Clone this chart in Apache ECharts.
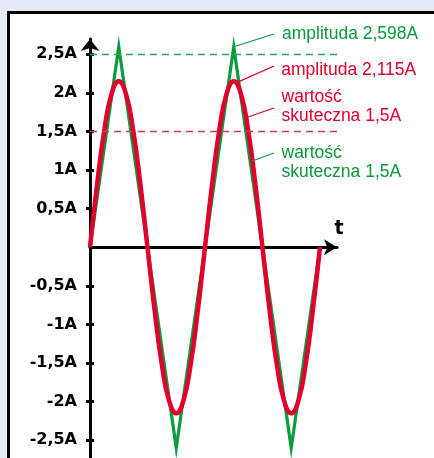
<!DOCTYPE html>
<html>
<head>
<meta charset="utf-8">
<script src="https://cdn.jsdelivr.net/npm/echarts@6/dist/echarts.min.js"></script>
<style>
  html, body { margin: 0; padding: 0; background: #e4ebf6; width: 434px; height: 458px; overflow: hidden; }
  #panel { position: absolute; left: 7px; top: 11px; width: 500px; height: 500px; background: #ffffff; border: 3px solid #000; }
  #chart { position: absolute; left: 0; top: 0; width: 434px; height: 458px; }
</style>
</head>
<body>
<div id="panel"></div>
<div id="chart"></div>
<script>
// time in periods, current in A
var greenT = [0, 0.25, 0.75, 1.25, 1.75, 2];
var greenI = [0, 2.598, -2.598, 2.598, -2.598, 0];

var redT = [0, 0.0625, 0.125, 0.1875, 0.25, 0.3125, 0.375, 0.4375, 0.5, 0.5625, 0.625, 0.6875, 0.75, 0.8125, 0.875, 0.9375,
            1, 1.0625, 1.125, 1.1875, 1.25, 1.3125, 1.375, 1.4375, 1.5, 1.5625, 1.625, 1.6875, 1.75, 1.8125, 1.875, 1.9375, 2];
var redI = [0, 0.823, 1.52, 1.986, 2.15, 1.986, 1.52, 0.823, 0, -0.823, -1.52, -1.986, -2.15, -1.986, -1.52, -0.823,
            0, 0.823, 1.52, 1.986, 2.15, 1.986, 1.52, 0.823, 0, -0.823, -1.52, -1.986, -2.15, -1.986, -1.52, -0.823, 0];

var yTickValues = [-2.5, -2, -1.5, -1, -0.5, 0.5, 1, 1.5, 2, 2.5];
var yTickLabels = ['-2,5A', '-2A', '-1,5A', '-1A', '-0,5A', '0,5A', '1A', '1,5A', '2A', '2,5A'];

var greenAmpLabel = 'amplituda 2,598A';
var redAmpLabel = 'amplituda 2,115A';
var redRmsLabel = 'wartość\nskuteczna 1,5A';
var greenRmsLabel = 'wartość\nskuteczna 1,5A';
var greenDashLevel = 2.5;
var redDashLevel = 1.5;
var axisName = 't';

var GREEN = '#0a9a3c';
var RED = '#e0002b';

function zip(a, b) { return a.map(function (v, i) { return [v, b[i]]; }); }

var labelFont = { fontFamily: 'Liberation Sans, Arial, sans-serif', fontSize: 17.5, lineHeight: 19 };

function leader(start, end, text, color, extra) {
  return [
    { coord: start, symbol: 'none', lineStyle: { color: color, width: 1.2, type: 'solid' } },
    { coord: end, symbol: 'none',
      label: Object.assign({ show: true, position: 'end', distance: 8, formatter: text, color: color }, labelFont, extra || {}) }
  ];
}

var X_MAX = 2.148, Y_MIN = -2.729, Y_MAX = 2.698;

var chart = echarts.init(document.getElementById('chart'), null, { renderer: 'canvas' });
chart.setOption({
  backgroundColor: 'transparent',
  animation: false,
  grid: { left: 90, top: 39, width: 247, height: 419, containLabel: false },
  xAxis: {
    type: 'value', min: 0, max: X_MAX,
    axisLine: { show: true, onZero: true, symbol: ['none', 'arrow'], symbolSize: [12, 13], lineStyle: { color: '#000', width: 3 } },
    axisTick: { show: false }, axisLabel: { show: false }, splitLine: { show: false }
  },
  yAxis: [{
    type: 'value', min: Y_MIN, max: Y_MAX,
    axisLine: { show: true, symbol: ['none', 'arrow'], symbolSize: [14, 12], lineStyle: { color: '#000', width: 3 } },
    axisTick: { show: true, inside: false, length: 4, customValues: yTickValues, lineStyle: { color: '#000', width: 3 } },
    axisLabel: {
      show: true, customValues: yTickValues, margin: 13,
      formatter: function (v) { var i = yTickValues.indexOf(Math.round(v * 10) / 10); return i >= 0 ? yTickLabels[i] : ''; },
      color: '#000', fontFamily: 'DejaVu Sans', fontWeight: 'bold', fontSize: 16
    },
    splitLine: { show: false }
  }, {
    type: 'value', min: Y_MIN, max: Y_MAX, position: 'left',
    axisLine: { show: false },
    axisTick: { show: true, inside: true, length: 4, customValues: yTickValues, lineStyle: { color: '#000', width: 3 } },
    axisLabel: { show: false }, splitLine: { show: false }
  }],
  series: [{
    type: 'line', name: 'green', data: zip(greenT, greenI), showSymbol: false, clip: false,
    itemStyle: { color: GREEN },
    lineStyle: { color: GREEN, width: 3.2, join: 'miter' }, z: 2,
    markLine: {
      silent: true, symbol: 'none',
      lineStyle: { color: GREEN },
      data: [
        [{ coord: [0, greenDashLevel], symbol: 'none', lineStyle: { color: '#2aa85a', width: 1.3, type: [7, 5] }, label: { show: false } },
         { coord: [X_MAX, greenDashLevel], symbol: 'none' }],
        leader([1.41, 1.118], [1.6, 1.221], greenRmsLabel, GREEN, { offset: [0, 12] })
      ]
    }
  }, {
    type: 'line', name: 'red', data: zip(redT, redI), showSymbol: false, smooth: true, clip: false,
    itemStyle: { color: RED },
    lineStyle: { color: RED, width: 4.5 }, z: 3,
    markLine: {
      silent: true, symbol: 'none',
      lineStyle: { color: RED },
      data: [
        [{ coord: [0, redDashLevel], symbol: 'none', lineStyle: { color: '#e2344f', width: 1.3, type: [7, 5] }, label: { show: false } },
         { coord: [X_MAX, redDashLevel], symbol: 'none' }],
        leader([1.27, 2.13], [1.6, 2.348], redAmpLabel, RED, { offset: [0, 7] }),
        leader([1.374, 1.688], [1.6, 1.804], redRmsLabel, RED, { offset: [0, 1] })
      ]
    }
  }]
});

// green amplitude leader ends above the y-axis range, so place it through the grid's own conversion
var p0 = chart.convertToPixel({ gridIndex: 0 }, [1.25, 2.598]);
var p1 = chart.convertToPixel({ gridIndex: 0 }, [1.6, 2.763]);
var tPos = chart.convertToPixel({ gridIndex: 0 }, [X_MAX, 0]);
chart.setOption({
  graphic: [{
    type: 'line', shape: { x1: p0[0], y1: p0[1], x2: p1[0], y2: p1[1] },
    style: { stroke: GREEN, lineWidth: 1.2 }, z: 10
  }, {
    type: 'text', x: p1[0] + 8, y: p1[1],
    style: { text: greenAmpLabel, fill: GREEN, fontFamily: labelFont.fontFamily, fontSize: labelFont.fontSize,
             textVerticalAlign: 'middle', verticalAlign: 'middle', align: 'left' }, z: 10
  }, {
    type: 'text', x: tPos[0] + 2, y: tPos[1] - 18,
    style: { text: axisName, fill: '#000', fontFamily: 'DejaVu Sans', fontWeight: 'bold', fontSize: 19,
             align: 'center', verticalAlign: 'middle' }, z: 10
  }]
});
</script>
</body>
</html>
